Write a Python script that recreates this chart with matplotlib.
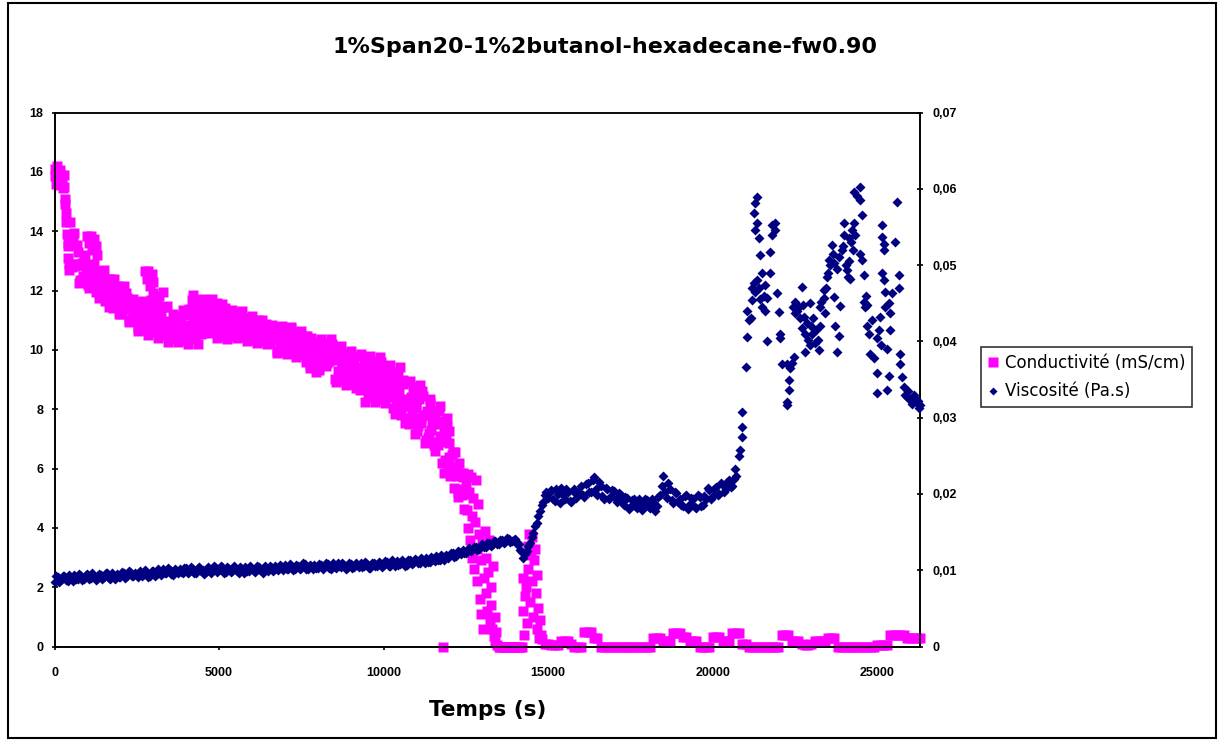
import numpy as np
import matplotlib
matplotlib.use("Agg")
import matplotlib.pyplot as plt
from matplotlib.lines import Line2D
from matplotlib.patches import Rectangle
from matplotlib.ticker import FuncFormatter

TITLE = "1%Span20-1%2butanol-hexadecane-fw0.90"
X_LABEL = "Temps (s)"
COND_LABEL = "Conductivité (mS/cm)"
VISC_LABEL = "Viscosité (Pa.s)"
X_TICKS = [0, 5000, 10000, 15000, 20000, 25000]
X_MAX = 26300
COND_TICKS = [0, 2, 4, 6, 8, 10, 12, 14, 16, 18]
VISC_TICKS = [0, 0.01, 0.02, 0.03, 0.04, 0.05, 0.06, 0.07]

# ---- Conductivity (mS/cm), logged on regular grids per segment ----
# segment 1: 0 .. 12450 s, every 50 s
cond_seg1_start, cond_seg1_step = 0, 50
cond_seg1 = [
    16.1, 15.6, 16.0, 15.75, 15.9, 15.45, 15.5, 14.6, 13.6, 12.7,
    13.85, 12.91, 13.95, 12.91, 13.29, 12.25, 12.86, 12.37, 13.2, 12.55,
    12.87, 12.1, 12.59, 12.15, 12.9, 12.25, 12.64, 11.75, 12.36, 11.87,
    12.7, 11.99, 12.38, 11.45, 12.06, 11.57, 12.4, 11.69, 12.09, 11.2,
    11.81, 11.32, 12.15, 11.45, 11.76, 10.95, 11.44, 11.03, 11.7, 11.11,
    11.46, 10.65, 11.25, 10.81, 11.65, 11.01, 11.51, 10.5, 11.28, 10.77,
    11.9, 11.05, 11.64, 10.4, 11.31, 10.67, 11.95, 10.96, 11.45, 10.25,
    10.82, 10.44, 11.2, 10.65, 11.05, 10.25, 10.88, 10.43, 11.35, 10.68,
    11.28, 10.2, 11.19, 10.53, 11.85, 10.86, 11.52, 10.2, 11.19, 10.53,
    11.7, 10.95, 11.45, 10.75, 11.2, 10.7, 11.7, 10.95, 11.45, 10.4,
    11.06, 10.57, 11.55, 10.82, 11.3, 10.35, 10.98, 10.56, 11.35, 10.75,
    11.16, 10.4, 10.97, 10.57, 11.3, 10.73, 11.07, 10.3, 10.84, 10.43,
    11.15, 10.6, 10.96, 10.23, 10.75, 10.4, 11.0, 10.52, 10.8, 10.2,
    10.57, 10.27, 10.85, 10.38, 10.6, 9.88, 10.43, 10.06, 10.8, 10.25,
    10.62, 9.87, 10.43, 10.06, 10.76, 10.2, 10.55, 9.76, 10.32, 9.94,
    10.65, 10.1, 10.45, 9.6, 9.99, 9.53, 10.4, 9.72, 10.2, 9.25,
    9.89, 9.43, 10.35, 9.75, 10.15, 9.45, 9.99, 9.63, 10.35, 9.7,
    9.94, 8.9, 9.66, 9.14, 10.12, 9.4, 9.84, 8.82, 9.53, 9.04,
    9.95, 9.22, 9.7, 8.7, 9.4, 8.85, 9.85, 8.9, 9.5, 8.25,
    9.17, 8.56, 9.78, 8.86, 9.47, 8.25, 9.15, 8.55, 9.75, 8.85,
    9.33, 8.2, 9.0, 8.4, 9.5, 8.6, 9.2, 7.85, 8.8, 8.05,
    9.41, 8.3, 9.0, 7.55, 8.35, 7.7, 8.95, 7.95, 8.6, 7.15,
    8.19, 7.42, 8.8, 7.7, 8.45, 6.85, 7.8, 7.05, 8.35, 7.3,
    7.93, 6.6, 7.5, 6.8, 8.1, 6.9, 7.6, 5.85, 7.0, 6.1,
    6.85, 6.05, 6.55, 5.35, 6.05, 5.2, 6.2, 5.3, 5.7, 4.65,
]
# segment 1b: interleaved readings, 25 .. 12475 s, every 50 s
cond_seg1b_start, cond_seg1b_step = 25, 50
cond_seg1b = [
    15.85, 16.2, 15.55, 16.05, 15.65, 15.9, 14.9, 13.9, 13.1, 14.3,
    12.79, 13.66, 12.84, 13.52, 12.85, 12.36, 12.94, 12.48, 13.1, 12.65,
    12.19, 12.72, 12.29, 12.8, 12.4, 11.95, 12.54, 12.07, 12.65, 12.2,
    11.66, 12.27, 11.78, 12.39, 11.9, 11.41, 12.04, 11.57, 12.15, 11.73,
    11.21, 11.82, 11.37, 11.9, 11.43, 11.0, 11.52, 11.09, 11.61, 11.2,
    10.75, 11.35, 10.92, 11.55, 11.13, 10.67, 11.39, 10.89, 11.67, 11.18,
    10.6, 11.5, 10.87, 11.8, 11.15, 10.51, 11.46, 10.8, 11.47, 10.73,
    10.35, 10.92, 10.54, 11.15, 10.75, 10.36, 10.99, 10.55, 11.24, 10.85,
    10.34, 11.36, 10.7, 11.69, 11.03, 10.37, 11.36, 10.7, 11.69, 11.03,
    10.58, 11.33, 10.83, 11.58, 11.08, 10.58, 11.33, 10.83, 11.58, 11.08,
    10.47, 11.19, 10.71, 11.4, 10.93, 10.45, 11.05, 10.65, 11.25, 10.85,
    10.49, 11.05, 10.68, 11.2, 10.82, 10.43, 10.96, 10.55, 11.07, 10.7,
    10.34, 10.88, 10.5, 11.0, 10.65, 10.3, 10.76, 10.43, 10.88, 10.57,
    10.22, 10.64, 10.35, 10.76, 10.35, 9.97, 10.53, 10.15, 10.71, 10.34,
    9.97, 10.52, 10.15, 10.7, 10.3, 9.88, 10.42, 10.04, 10.6, 10.22,
    9.84, 10.35, 9.95, 10.45, 9.85, 9.4, 10.05, 9.6, 10.25, 9.8,
    9.32, 10.0, 9.65, 10.24, 9.9, 9.54, 10.05, 9.7, 10.2, 9.8,
    9.03, 9.8, 9.28, 10.0, 9.5, 8.98, 9.65, 9.17, 9.88, 9.4,
    8.85, 9.55, 9.05, 9.78, 9.2, 8.65, 9.4, 8.8, 9.62, 9.02,
    8.4, 9.32, 8.71, 9.63, 9.0, 8.4, 9.3, 8.7, 9.6, 9.0,
    8.35, 9.15, 8.6, 9.4, 8.8, 8.05, 8.95, 8.3, 9.25, 8.55,
    7.8, 8.85, 8.1, 8.9, 8.1, 7.5, 8.4, 7.75, 8.75, 8.05,
    7.25, 8.35, 7.55, 8.6, 7.8, 6.95, 7.95, 7.2, 8.2, 7.5,
    6.8, 7.7, 6.9, 7.95, 7.1, 6.2, 7.25, 6.3, 7.4, 6.4,
    5.75, 6.45, 5.8, 6.55, 5.75, 5.05, 5.85, 5.1, 5.85, 5.15,
]
# segment 2: first collapse, 12500 .. 13450 s, every 25 s
cond_seg2_start, cond_seg2_step = 12500, 25
cond_seg2 = [
    5.4, 4.6, 5.8, 4.0, 5.2, 3.6, 5.7, 4.4, 3.0, 5.0,
    2.6, 4.2, 5.6, 3.3, 2.2, 4.8, 3.8, 1.6, 2.9, 1.1,
    3.5, 0.6, 2.3, 3.9, 1.8, 3.0, 1.2, 2.5, 3.6, 0.9,
    2.0, 1.4, 0.6, 2.7, 0.35, 1.0, 0.15, 0.5, 0.05,
]
# segment 3: 13500 .. 14150 s, every 50 s
cond_seg3_start, cond_seg3_step = 13500, 50
cond_seg3 = [0.0, 0.0, 0.0, 0.0, 0.0, 0.0, 0.0, 0.0, 0.0, 0.0, 0.0, 0.0, 0.0, 0.0]
# segment 4: second burst, 14200 .. 14800 s, every 25 s
cond_seg4_start, cond_seg4_step = 14200, 25
cond_seg4 = [
    0.0, 1.2, 2.3, 0.4, 1.7, 2.0, 0.8, 3.4, 2.6, 3.8,
    1.5, 3.1, 3.7, 2.2, 1.0, 2.9, 3.3, 1.8, 0.6, 2.4,
    1.3, 0.3, 0.9, 0.4, 0.25,
]
# segment 5: 14900 .. 26300 s, every 100 s
cond_seg5_start, cond_seg5_step = 14900, 100
cond_seg5 = [
    0.1, 0.1, 0.05, 0.05, 0.05, 0.18, 0.18, 0.18, 0.1, 0.0,
    0.0, 0.0, 0.5, 0.5, 0.5, 0.3, 0.3,
    0.0, 0.0, 0.0, 0.0, 0.0, 0.0, 0.0, 0.0, 0.0, 0.0, 0.0, 0.0, 0.0, 0.0, 0.0, 0.0,
    0.3, 0.3, 0.3, 0.18, 0.18, 0.18, 0.45, 0.45, 0.45, 0.32,
    0.32, 0.18, 0.18, 0.18, 0.0, 0.0, 0.0, 0.0, 0.32, 0.32,
    0.32, 0.18, 0.18, 0.18, 0.46, 0.46, 0.46, 0.1, 0.1,
    0.0, 0.0, 0.0, 0.0, 0.0, 0.0, 0.0, 0.0, 0.0, 0.0,
    0.38, 0.38, 0.38, 0.18, 0.18, 0.18, 0.1, 0.04, 0.04, 0.1,
    0.2, 0.2, 0.2, 0.2, 0.27, 0.27, 0.27,
    0.0, 0.0, 0.0, 0.0, 0.0, 0.0, 0.0, 0.0, 0.0, 0.0, 0.0, 0.0,
    0.04, 0.04, 0.04, 0.04, 0.38, 0.38, 0.38, 0.38, 0.38,
    0.27, 0.27, 0.27, 0.27, 0.27,
]
# off-grid readings (start-up transient, short excursions, isolated low point)
cond_extra_t = [325, 360, 400, 440, 1000, 1050, 1100, 1150, 1200, 1250, 1300,
                2750, 2800, 2850, 2900, 2950, 3000, 11925, 11975, 11800]
cond_extra_v = [15.1, 14.3, 13.5, 12.9, 13.85, 13.6, 13.85, 13.35, 13.75, 13.5, 13.2,
                12.65, 12.4, 12.65, 12.15, 12.55, 12.3, 7.7, 7.25, 0.0]

# ---- Viscosity (Pa.s) ----
visc_segA_start, visc_segA_step = 0, 100
visc_segA = [
    0.0085, 0.0091, 0.0087, 0.0093, 0.0086, 0.0090, 0.0094, 0.0088, 0.0092, 0.0089,
    0.0095, 0.0090, 0.0093, 0.0088, 0.0094, 0.0091, 0.0096, 0.0089, 0.0093, 0.0095,
    0.0091, 0.0096, 0.0093, 0.0098, 0.0092, 0.0095, 0.0099, 0.0094, 0.0097, 0.0093,
    0.0099, 0.0095, 0.0098, 0.0101, 0.0096, 0.0100, 0.0094, 0.0099, 0.0102, 0.0097,
    0.0103, 0.0098, 0.0101, 0.0097, 0.0104, 0.0100, 0.0098, 0.0102, 0.0099, 0.0103,
    0.0100, 0.0104, 0.0098, 0.0102, 0.0099, 0.0103, 0.0097, 0.0101, 0.0104, 0.0099,
    0.0102, 0.0098, 0.0104, 0.0101, 0.0105, 0.0099, 0.0103, 0.0106, 0.0100, 0.0104,
    0.0107, 0.0102, 0.0105, 0.0101, 0.0106, 0.0103, 0.0108, 0.0102, 0.0105, 0.0107,
    0.0103, 0.0107, 0.0104, 0.0108, 0.0102, 0.0106, 0.0109, 0.0104, 0.0107, 0.0103,
    0.0108, 0.0104, 0.0107, 0.0110, 0.0105, 0.0108, 0.0103, 0.0109, 0.0106, 0.0110,
    0.0107, 0.0111, 0.0106, 0.0109, 0.0112, 0.0108, 0.0111, 0.0107, 0.0113, 0.0110,
    0.0114, 0.0110, 0.0113, 0.0116, 0.0111, 0.0115, 0.0118, 0.0113, 0.0117, 0.0120,
    0.0118, 0.0122, 0.0119, 0.0124, 0.0127, 0.0123, 0.0129, 0.0126, 0.0131, 0.0128,
    0.0135, 0.0131, 0.0136, 0.0133, 0.0138, 0.0135, 0.0140, 0.0137, 0.0141, 0.0138,
]
visc_segA2_start, visc_segA2_step = 50, 100
visc_segA2 = [
    0.0092, 0.0084, 0.0093, 0.0087, 0.0094, 0.0086, 0.0089, 0.0095, 0.0087, 0.0094,
    0.0088, 0.0096, 0.0087, 0.0095, 0.0089, 0.0097, 0.0090, 0.0096, 0.0088, 0.0091,
    0.0098, 0.0090, 0.0099, 0.0092, 0.0097, 0.0091, 0.0093, 0.0100, 0.0091, 0.0099,
    0.0093, 0.0101, 0.0094, 0.0097, 0.0103, 0.0095, 0.0101, 0.0096, 0.0098, 0.0103,
    0.0097, 0.0104, 0.0096, 0.0103, 0.0099, 0.0095, 0.0104, 0.0097, 0.0105, 0.0098,
    0.0105, 0.0097, 0.0104, 0.0098, 0.0105, 0.0099, 0.0104, 0.0097, 0.0099, 0.0105,
    0.0099, 0.0106, 0.0100, 0.0097, 0.0101, 0.0106, 0.0099, 0.0102, 0.0107, 0.0100,
    0.0101, 0.0108, 0.0100, 0.0107, 0.0102, 0.0109, 0.0101, 0.0107, 0.0101, 0.0103,
    0.0108, 0.0101, 0.0109, 0.0103, 0.0110, 0.0103, 0.0105, 0.0110, 0.0102, 0.0109,
    0.0103, 0.0110, 0.0104, 0.0104, 0.0111, 0.0103, 0.0110, 0.0105, 0.0111, 0.0104,
    0.0112, 0.0106, 0.0113, 0.0106, 0.0107, 0.0113, 0.0106, 0.0114, 0.0108, 0.0115,
    0.0109, 0.0116, 0.0110, 0.0111, 0.0117, 0.0112, 0.0114, 0.0120, 0.0114, 0.0116,
    0.0123, 0.0117, 0.0125, 0.0121, 0.0122, 0.0128, 0.0125, 0.0131, 0.0127, 0.0133,
    0.0130, 0.0136, 0.0132, 0.0138, 0.0134, 0.0140, 0.0136, 0.0142, 0.0137, 0.0140,
]
visc_segB_start, visc_segB_step = 14000, 50
visc_segB = [
    0.0141, 0.0135, 0.0134, 0.0127, 0.0124, 0.0116, 0.0121, 0.0125, 0.0132, 0.0136,
    0.0144, 0.0149, 0.0158, 0.0162, 0.0171, 0.0177, 0.0185, 0.0190, 0.0198, 0.0202,
]
visc_segC_start, visc_segC_step = 15000, 100
visc_segC = [
    0.0195, 0.0205, 0.0191, 0.0200, 0.0208, 0.0194, 0.0203, 0.0189, 0.0206, 0.0198,
    0.0210, 0.0196, 0.0214, 0.0203, 0.0222, 0.0199, 0.0211, 0.0193, 0.0207, 0.0197,
    0.0204, 0.0190, 0.0199, 0.0186, 0.0195, 0.0183, 0.0193, 0.0181, 0.0190, 0.0185,
    0.0192, 0.0181, 0.0189, 0.0184, 0.0199, 0.0224, 0.0195, 0.0207, 0.0188, 0.0201,
    0.0193, 0.0184, 0.0198, 0.0187, 0.0194, 0.0182, 0.0196, 0.0186, 0.0193, 0.0205,
    0.0197, 0.0209, 0.0200, 0.0212, 0.0206, 0.0218, 0.0211, 0.0224,
]
visc_segC2_start, visc_segC2_step = 15050, 100
visc_segC2 = [
    0.0203, 0.0193, 0.0207, 0.0188, 0.0198, 0.0206, 0.0191, 0.0204, 0.0195, 0.0202,
    0.0199, 0.0213, 0.0202, 0.0218, 0.0206, 0.0215, 0.0197, 0.0208, 0.0194, 0.0205,
    0.0193, 0.0201, 0.0189, 0.0196, 0.0180, 0.0192, 0.0184, 0.0194, 0.0179, 0.0193,
    0.0183, 0.0194, 0.0178, 0.0196, 0.0210, 0.0203, 0.0214, 0.0192, 0.0203, 0.0189,
    0.0185, 0.0197, 0.0180, 0.0195, 0.0183, 0.0199, 0.0184, 0.0197, 0.0208, 0.0194,
    0.0206, 0.0198, 0.0214, 0.0203, 0.0215, 0.0209, 0.0220,
]
# unstable regime after ~20700 s
visc_segD_t = [
    20690, 20790, 20840, 20905, 20905, 20905, 21000, 21040, 21040, 21090,
    21195, 21245, 21245, 21295, 21295, 21345, 21345, 21395, 21450, 21500,
    21500, 21600, 21650, 21650, 21750, 21750, 21800, 21800, 21905, 21905,
    21955, 22005, 22055, 22055, 22105, 22260, 22360, 22310, 22310, 22260,
    22260, 22410, 22460, 22510, 22610, 22715, 22765, 22815, 22865, 22965,
    23020, 23120, 23220, 23270, 23370, 23370, 23420, 23475, 23525, 23625,
    23675, 23725, 23780, 23830, 23880, 23930, 23980, 24085, 24130, 24185,
    24235, 24285, 24285, 24385, 24490, 24490, 24540, 24490, 24540, 24590,
    24640, 24690, 24740, 24790, 24845, 24895, 24995, 24995, 25095, 25150,
    25150, 25195, 25195, 25150, 25195, 25250, 25300, 25300, 25350, 25400,
    25400, 25450, 25550, 25600, 25650, 25650, 25705, 25705, 25755, 25805,
    25905, 26005, 26110, 26210, 26260,
    22450, 22500, 22550, 22650, 22700, 22750, 22800, 22900, 22950, 23000,
    23050, 23150, 23200, 23250, 23300,
    23450, 23500, 23575, 23650, 23700, 23775, 23850, 23950, 24000, 24050,
    24100, 24150, 24200, 24250, 24330,
    21150, 21200, 21300, 21350, 21400, 21450, 21550, 21600,
    25000, 25050, 25100, 25250, 25350,
    25850, 25950, 26050, 26150, 26250, 26300,
    24600, 24650, 24700,
]
visc_segD_v = [
    0.0233, 0.0250, 0.0258, 0.0275, 0.0288, 0.0307, 0.0366, 0.0406, 0.0440, 0.0428,
    0.0454, 0.0476, 0.0568, 0.0582, 0.0546, 0.0589, 0.0555, 0.0535, 0.0513, 0.0490,
    0.0445, 0.0474, 0.0457, 0.0400, 0.0490, 0.0517, 0.0552, 0.0540, 0.0555, 0.0546,
    0.0463, 0.0439, 0.0410, 0.0405, 0.0370, 0.0370, 0.0365, 0.0350, 0.0336, 0.0320,
    0.0316, 0.0372, 0.0380, 0.0437, 0.0445, 0.0471, 0.0432, 0.0386, 0.0424, 0.0450,
    0.0410, 0.0398, 0.0389, 0.0420, 0.0467, 0.0457, 0.0437, 0.0484, 0.0506, 0.0526,
    0.0458, 0.0420, 0.0386, 0.0407, 0.0446, 0.0520, 0.0555, 0.0493, 0.0535, 0.0482,
    0.0546, 0.0555, 0.0596, 0.0590, 0.0602, 0.0585, 0.0565, 0.0515, 0.0506, 0.0487,
    0.0445, 0.0420, 0.0410, 0.0384, 0.0428, 0.0378, 0.0358, 0.0332, 0.0432, 0.0552,
    0.0537, 0.0527, 0.0520, 0.0490, 0.0480, 0.0465, 0.0390, 0.0336, 0.0355, 0.0415,
    0.0437, 0.0463, 0.0530, 0.0583, 0.0487, 0.0470, 0.0384, 0.0370, 0.0353, 0.0340,
    0.0327, 0.0323, 0.0330, 0.0319, 0.0313,
    0.0445, 0.0452, 0.0440, 0.0430, 0.0418, 0.0448, 0.0410, 0.0402, 0.0395, 0.0420,
    0.0430, 0.0415, 0.0402, 0.0445, 0.0452,
    0.0470, 0.0490, 0.0500, 0.0515, 0.0503, 0.0495, 0.0510, 0.0525, 0.0540, 0.0500,
    0.0485, 0.0505, 0.0530, 0.0520, 0.0540,
    0.0430, 0.0470, 0.0465, 0.0480, 0.0470, 0.0455, 0.0460, 0.0440,
    0.0405, 0.0415, 0.0395, 0.0445, 0.0450,
    0.0330, 0.0335, 0.0318, 0.0326, 0.0322, 0.0316,
    0.0452, 0.0460, 0.0448,
]

MAGENTA = "#FF00FF"
NAVY = "#000080"
W, H = 1221, 740


def grid(start, step, values):
    return start + step * np.arange(len(values))


cond_t = np.concatenate([
    grid(cond_seg1_start, cond_seg1_step, cond_seg1),
    grid(cond_seg1b_start, cond_seg1b_step, cond_seg1b),
    grid(cond_seg2_start, cond_seg2_step, cond_seg2),
    grid(cond_seg3_start, cond_seg3_step, cond_seg3),
    grid(cond_seg4_start, cond_seg4_step, cond_seg4),
    grid(cond_seg5_start, cond_seg5_step, cond_seg5),
    np.array(cond_extra_t),
])
cond_v = np.concatenate([cond_seg1, cond_seg1b, cond_seg2, cond_seg3, cond_seg4,
                         cond_seg5, cond_extra_v])

visc_t = np.concatenate([
    grid(visc_segA_start, visc_segA_step, visc_segA),
    grid(visc_segA2_start, visc_segA2_step, visc_segA2),
    grid(visc_segB_start, visc_segB_step, visc_segB),
    grid(visc_segC_start, visc_segC_step, visc_segC),
    grid(visc_segC2_start, visc_segC2_step, visc_segC2),
    np.array(visc_segD_t),
])
visc_v = np.concatenate([visc_segA, visc_segA2, visc_segB, visc_segC, visc_segC2,
                         visc_segD_v])

tick_font = {"family": "Liberation Sans", "weight": "bold", "size": 9}

fig = plt.figure(figsize=(W / 100, H / 100), dpi=100)
left, right, top, bottom = 54.5, 920, 112.5, 646.5
ax = fig.add_axes([left / W, 1 - bottom / H, (right - left) / W, (bottom - top) / H])
ax2 = ax.twinx()

ax.plot(cond_t, cond_v, ls="none", marker="s", ms=7.0, mfc=MAGENTA, mec="none",
        clip_on=False, zorder=3)
ax2.plot(visc_t, visc_v, ls="none", marker="D", ms=5.0, mfc=NAVY, mec="none",
         clip_on=False, zorder=3)

ax.set_xlim(0, X_MAX)
ax.set_ylim(0, 18)
ax2.set_ylim(0, 0.07)
ax.set_xticks(X_TICKS)
ax.set_yticks(COND_TICKS)
ax2.set_yticks(VISC_TICKS)

ax.xaxis.set_major_formatter(FuncFormatter(lambda v, _: f"{int(v)}"))
ax.yaxis.set_major_formatter(FuncFormatter(lambda v, _: f"{int(v)}"))
ax2.yaxis.set_major_formatter(
    FuncFormatter(lambda v, _: "0" if abs(v) < 1e-9 else f"{v:.2f}".replace(".", ",")))

ax.tick_params(axis="y", direction="inout", length=5, width=1.2, pad=5.4, colors="black")
ax.tick_params(axis="x", direction="out", length=2.5, width=1.2, pad=12, colors="black")
ax2.tick_params(axis="y", direction="inout", length=5, width=1.2, pad=6.2, colors="black")
for lab in ax.get_xticklabels() + ax.get_yticklabels() + ax2.get_yticklabels():
    lab.set_fontproperties(tick_font)

for a in (ax, ax2):
    for s in a.spines.values():
        s.set_color("black")
        s.set_linewidth(1.2)
ax.spines["top"].set_color("#404040")

ax.set_xlabel(X_LABEL, fontsize=15.5, fontweight="bold", family="DejaVu Sans", va="center")
ax.xaxis.set_label_coords(0.5, -(710 - bottom) / (bottom - top))

fig.text(605 / W, 1 - 47 / H, TITLE, ha="center", va="center",
         fontsize=16, fontweight="bold", family="DejaVu Sans")

handles = [
    Line2D([], [], ls="none", marker="s", ms=6.5, mfc=MAGENTA, mec="none"),
    Line2D([], [], ls="none", marker="D", ms=3.8, mfc=NAVY, mec="none"),
]
leg = fig.legend(handles, [COND_LABEL, VISC_LABEL], loc="upper left",
                 bbox_to_anchor=(981 / W, 1 - 347 / H), bbox_transform=fig.transFigure,
                 borderaxespad=0, frameon=True, fancybox=False, shadow=False,
                 prop={"family": "DejaVu Sans", "size": 12},
                 handlelength=0.6, handletextpad=0.45, borderpad=0.4, labelspacing=0.65)
leg.get_frame().set_edgecolor("black")
leg.get_frame().set_linewidth(1.2)

fig.patches.append(Rectangle((8 / W, 2 / H), (1216 - 8) / W, (737 - 2) / H,
                             transform=fig.transFigure, fill=False,
                             edgecolor="black", linewidth=1.5))

fig.savefig("out.png", dpi=100, facecolor="white")
